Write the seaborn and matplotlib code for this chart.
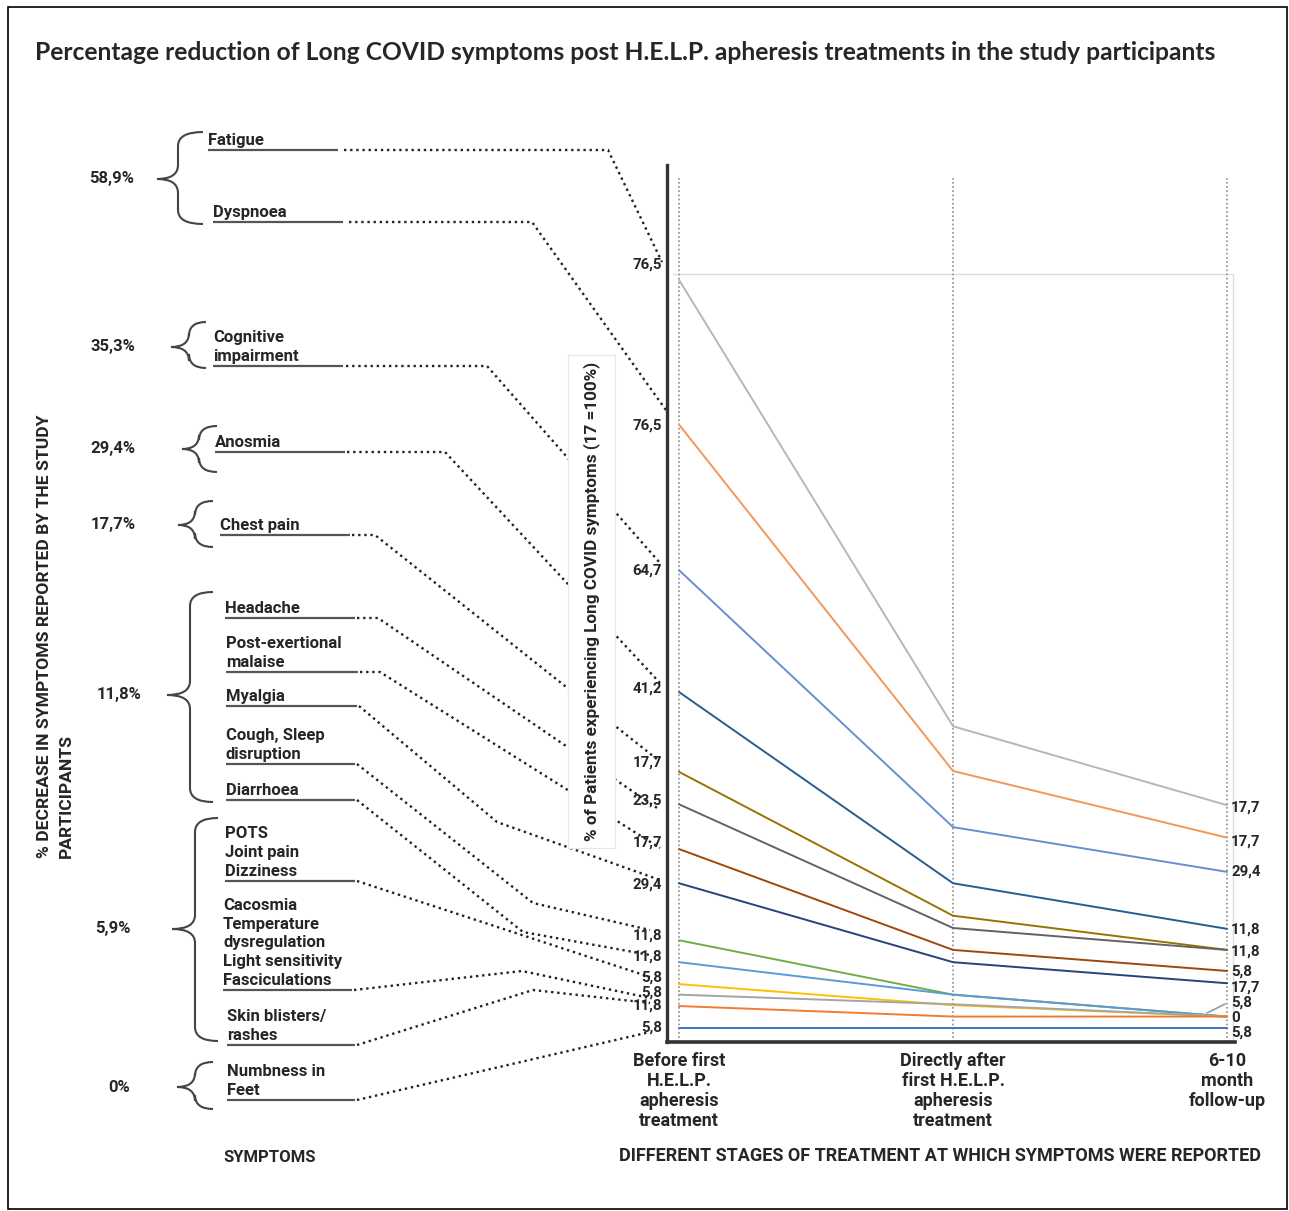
import numpy as np
import pandas as pd
import matplotlib
matplotlib.use("Agg")
import matplotlib.pyplot as plt
import seaborn as sns
from matplotlib.path import Path
from matplotlib.patches import PathPatch, Rectangle

sns.set_style("white")
plt.rcParams["font.family"] = ["Roboto", "DejaVu Sans"]

W, H = 1289, 1211

# x axis: stages of treatment
stages = ["Before first\nH.E.L.P.\napheresis\ntreatment",
          "Directly after\nfirst H.E.L.P.\napheresis\ntreatment",
          "6-10\nmonth\nfollow-up"]

# one line per symptom group, top to bottom
# drawn level (% of the axis height)
line_ids = ["l%02d" % i for i in range(1, 15)]
level_before = [86.9, 70.4, 53.8, 39.9, 30.8, 27.1, 22.0, 18.1, 11.6, 9.1, 6.6, 5.4, 4.1, 1.6]
level_after = [36.0, 30.9, 24.5, 18.1, 14.4, 13.0, 10.5, 9.1, 5.4, 5.4, 4.2, 4.3, 2.9, 1.6]
level_follow = [27.0, 23.3, 19.4, 12.9, 10.5, 10.5, 8.1, 6.7, 2.9, 2.9, 2.9, 2.9, 2.9, 1.6]
line_colors = ["#B7B7B7", "#F1975A", "#698ED0", "#255E91", "#997300", "#636363", "#9E480E",
               "#264478", "#70AD47", "#5B9BD5", "#FFC000", "#A5A5A5", "#ED7D31", "#4472C4"]

# value labels printed next to the lines
start_labels = ["76,5", "76,5", "64,7", "41,2", "17,7", "23,5", "17,7", "29,4",
                "11,8", "11,8", "5,8", "5,8", "11,8", "5,8"]
end_labels = ["17,7", "17,7", "29,4", "11,8", "11,8", "5,8", "17,7", "5,8", "0", "5,8"]
end_label_line = [0, 1, 2, 3, 4, 6, 7, 8, 8, 13]

# left part: symptoms and % decrease per group
symptoms = ["Fatigue", "Dyspnoea", "Cognitive\nimpairment", "Anosmia", "Chest pain",
            "Headache", "Post-exertional\nmalaise", "Myalgia", "Cough, Sleep\ndisruption",
            "Diarrhoea", "POTS\nJoint pain\nDizziness",
            "Cacosmia\nTemperature\ndysregulation\nLight sensitivity\nFasciculations",
            "Skin blisters/\nrashes", "Numbness in\nFeet"]
decrease = ["58,9%", "35,3%", "29,4%", "17,7%", "11,8%", "5,9%", "0%"]

df = pd.DataFrame({
    "line": np.repeat(line_ids, 3),
    "stage": np.tile([0, 1, 2], len(line_ids)),
    "level": np.column_stack([level_before, level_after, level_follow]).ravel(),
})

narrow = ["Liberation Sans Narrow", "Roboto", "DejaVu Sans"]

fig = plt.figure(figsize=(W / 100, H / 100), dpi=100)

# background layer in pixel units for the infographic parts
bg = fig.add_axes([0, 0, 1, 1])
bg.set_xlim(0, W)
bg.set_ylim(H, 0)
bg.axis("off")
bg.add_patch(Rectangle((8, 7), 1279, 1202, fill=False, ec="black", lw=1.2))

bg.text(35, 52, "Percentage reduction of Long COVID symptoms post H.E.L.P. apheresis treatments in the study participants",
        fontsize=17.7, fontweight="bold", family=["Lato", "DejaVu Sans"], ha="left", va="center")

# chart
ax = fig.add_axes([667 / W, 1 - 1042 / H, (1235 - 667) / W, (1042 - 165) / H])
ax.patch.set_alpha(0)
sns.lineplot(data=df, x="stage", y="level", hue="line", palette=dict(zip(line_ids, line_colors)),
             linewidth=1.4, legend=False, ax=ax, sort=False, zorder=3)
ax.set_xlim(-0.044, 2.029)
ax.set_ylim(0, 100)
for i in range(3):
    ax.axvline(i, ymin=0, ymax=0.985, color="#8c8c8c", ls=(0, (1, 1.5)), lw=1.2, zorder=1)
ax.axhline(87.6, xmin=0.01, xmax=0.995, color="#dcdcdc", lw=1, zorder=0)
ax.axvline(2.021, ymin=0, ymax=0.876, color="#dcdcdc", lw=1, zorder=0)
for s in ["top", "right"]:
    ax.spines[s].set_visible(False)
ax.spines["left"].set_linewidth(2.4)
ax.spines["left"].set_color("#333333")
ax.spines["bottom"].set_linewidth(2.6)
ax.spines["bottom"].set_color("#333333")
ax.set_yticks([])
ax.set_xticks([0, 1, 2])
ax.set_xticklabels(stages, fontsize=13, fontweight="bold", linespacing=1.15, family=narrow)
ax.tick_params(axis="x", length=0, pad=7)
ax.set_xlabel("")
ax.set_ylabel("")

start_dy = [15, -1, 0, 4, 9, 4, 6, -1, 5, 6, 7, 2, 0, 0]
for lbl, lvl, dy in zip(start_labels, level_before, start_dy):
    ax.annotate(lbl, xy=(0, lvl), xytext=(-17, dy), textcoords="offset pixels",
                ha="right", va="center", fontsize=10.8, fontweight="bold", annotation_clip=False)
end_dy = [-2, -4, 0, -1, -2, -1, -4, 14, -1, -5]
for lbl, idx, dy in zip(end_labels, end_label_line, end_dy):
    ax.annotate(lbl, xy=(2, level_follow[idx]), xytext=(4, dy), textcoords="offset pixels",
                ha="left", va="center", fontsize=10.8, fontweight="bold", annotation_clip=False)
bg.plot([1207, 1225], [1013, 1004], color="#999999", lw=1.2)

# y label of the chart in its own white box
bg.add_patch(Rectangle((568, 355), 47, 493, fc="white", ec="#e6e6e6", lw=0.8, zorder=3))
bg.text(592, 601, "% of Patients experiencing Long COVID symptoms (17 =100%)", rotation=90,
        ha="center", va="center", fontsize=12.3, fontweight="bold", zorder=4)

# symptoms with underlines
underline = [(208, 338, 150), (213, 343, 222), (213, 343, 366), (215, 345, 452), (220, 350, 535),
             (225, 355, 618), (226, 358, 672), (226, 357, 706), (226, 355, 764), (226, 355, 800),
             (225, 355, 881), (223, 352, 990), (227, 355, 1045), (227, 355, 1100)]
for name, (x0, x1, yu) in zip(symptoms, underline):
    bg.plot([x0, x1], [yu, yu], color="#555555", lw=1.6, solid_capstyle="butt")
    rows = name.split("\n")
    for k, row in enumerate(rows):
        yb = yu - 5 - 18.8 * (len(rows) - 1 - k)
        bg.text(x0, yb, row, fontsize=12, fontweight="bold", ha="left", va="baseline")

# dotted leaders from symptoms to the chart
leaders = [
    [(344, 150), (608, 150), (662, 262)],
    [(349, 222), (532, 222), (668, 413)],
    [(346, 366), (487, 366), (660, 563)],
    [(347, 452), (445, 452), (660, 683)],
    [(352, 535), (375, 535), (658, 760)],
    [(357, 618), (378, 618), (660, 810)],
    [(360, 672), (380, 672), (660, 848)],
    [(359, 706), (497, 822), (660, 880)],
    [(357, 764), (533, 903), (650, 930)],
    [(357, 800), (523, 932), (650, 955)],
    [(357, 881), (650, 977)],
    [(354, 990), (522, 971), (650, 998)],
    [(357, 1045), (533, 990), (650, 1003)],
    [(357, 1100), (650, 1032)],
]
for pts in leaders:
    xs, ys = zip(*pts)
    bg.plot(xs, ys, color="#222222", lw=1.7, ls=(0, (1, 1.6)), zorder=2)


def brace(x_tip, x_vert, x_end, y_top, y_bot, y_mid):
    r = 14
    verts = [(x_end, y_top), (x_vert, y_top), (x_vert, y_top + r),
             (x_vert, y_mid - r), (x_vert, y_mid), (x_tip, y_mid),
             (x_vert, y_mid), (x_vert, y_mid + r),
             (x_vert, y_bot - r), (x_vert, y_bot), (x_end, y_bot)]
    codes = [Path.MOVETO, Path.CURVE3, Path.CURVE3,
             Path.LINETO, Path.CURVE3, Path.CURVE3,
             Path.CURVE3, Path.CURVE3,
             Path.LINETO, Path.CURVE3, Path.CURVE3]
    bg.add_patch(PathPatch(Path(verts, codes), fill=False, ec="#444444", lw=1.5))


braces = [(157, 178, 203, 132, 224, 179), (171, 189, 206, 322, 368, 347),
          (182, 199, 217, 426, 472, 449), (178, 195, 213, 501, 547, 525),
          (167, 190, 213, 592, 802, 695), (172, 195, 218, 818, 1041, 929),
          (177, 195, 213, 1062, 1109, 1087)]
pct_x = [112, 113, 113, 113, 119, 113, 119]
for b, txt, px in zip(braces, decrease, pct_x):
    brace(*b)
    bg.text(px, b[5], txt, fontsize=12, fontweight="bold", ha="center", va="center")

# axis titles
bg.text(45, 858, "% DECREASE IN SYMPTOMS REPORTED BY THE STUDY", rotation=90, ha="center", va="bottom",
        fontsize=12.6, fontweight="bold")
bg.text(66, 858, "PARTICIPANTS", rotation=90, ha="center", va="bottom", fontsize=12.6, fontweight="bold")
bg.text(270, 1157, "SYMPTOMS", ha="center", va="center", fontsize=12, fontweight="bold")
bg.text(940, 1156, "DIFFERENT STAGES OF TREATMENT AT WHICH SYMPTOMS WERE REPORTED", ha="center", va="center",
        fontsize=13, fontweight="bold", family=narrow)

fig.savefig("out.png", dpi=100)
